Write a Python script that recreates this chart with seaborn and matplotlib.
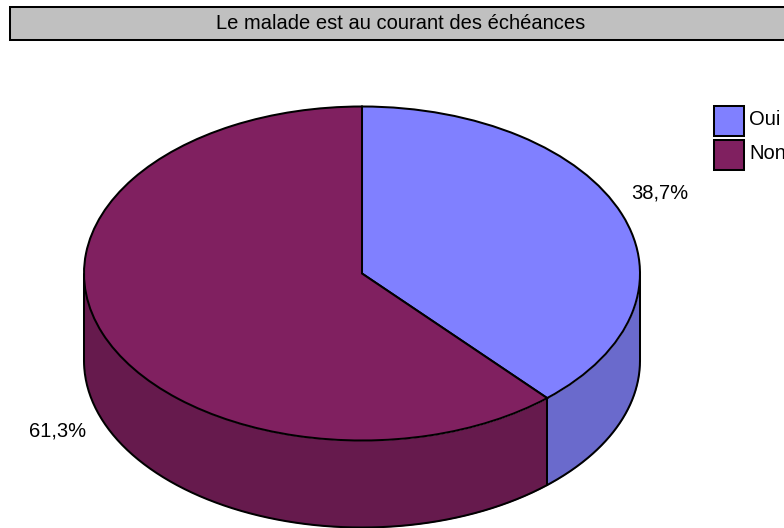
import numpy as np
import matplotlib
matplotlib.use("Agg")
import matplotlib.pyplot as plt
from matplotlib.patches import Rectangle
import seaborn as sns

title = "Le malade est au courant des échéances"
categories = ["Oui", "Non"]
# Slice sizes as drawn in the picture; the printed labels are kept as they read
shares = [38.4, 61.6]
share_labels = ["38,7%", "61,3%"]
top_colors = ["#8080FF", "#802060"]
side_colors = ["#6A6ACC", "#661A4D"]

sns.set_theme(style="white")
plt.rcParams["font.family"] = ["Liberation Sans", "DejaVu Sans"]

W, H = 784, 528
CX, CY, RX, RY, DEPTH = 362, 273.5, 278, 167, 87
k = RX / RY
LW = 1.45
FS = 14.5

fig = plt.figure(figsize=(W / 100, H / 100), dpi=100, facecolor="white")
ax = fig.add_axes([0, 0, 1, 1])

wedges, _ = ax.pie(shares, colors=top_colors, startangle=90, counterclock=False,
                   radius=RX, center=(CX, 0),
                   wedgeprops=dict(edgecolor="black", linewidth=LW, zorder=5))
ax.set_aspect("auto")
ax.set_xlim(0, W)
ax.set_ylim((CY - H) * k, CY * k)
ax.set_axis_off()

# Side wall: visible (lower) half of the rim
depth = DEPTH * k
fractions = np.cumsum([0] + shares) / sum(shares)
for i in range(len(shares)):
    a0 = max(fractions[i] * 2 * np.pi, np.pi / 2)
    a1 = min(fractions[i + 1] * 2 * np.pi, 3 * np.pi / 2)
    t = np.linspace(a0, a1, 200)
    x = CX + RX * np.sin(t)
    y = RX * np.cos(t)
    ax.fill_between(x, y - depth, y, color=side_colors[i], lw=0, zorder=2)
    ax.plot(x, y - depth, color="black", lw=LW, zorder=3)
for a in (np.pi / 2, 3 * np.pi / 2, fractions[1] * 2 * np.pi):
    x = CX + RX * np.sin(a)
    y = RX * np.cos(a)
    ax.plot([x, x], [y, y - depth], color="black", lw=LW, zorder=4)

def fx(px):
    return px / W
def fy(py):
    return 1 - py / H

# Title band
ax.add_patch(Rectangle((fx(10), fy(40)), fx(790) - fx(10), fy(7) - fy(40), transform=ax.transAxes,
                       facecolor="#C0C0C0", edgecolor="black", lw=LW, clip_on=False, zorder=6))
ax.text(fx(401), fy(23.5), title, transform=ax.transAxes, ha="center", va="center",
        fontsize=FS, color="black", zorder=7)

# Value labels
ax.text(fx(659.8), fy(193), share_labels[0], transform=ax.transAxes, ha="center", va="center",
        fontsize=FS, color="black")
ax.text(fx(57.8), fy(431), share_labels[1], transform=ax.transAxes, ha="center", va="center",
        fontsize=FS, color="black")

# Legend
leg = ax.legend(wedges, categories, loc="upper left", bbox_to_anchor=(fx(714), fy(106)),
                bbox_transform=ax.transAxes, frameon=False, fontsize=FS, borderpad=0,
                borderaxespad=0, handlelength=1.49, handleheight=1.92,
                labelspacing=0.18, handletextpad=0.27)
for t in leg.get_texts():
    t.set_color("black")
    t.set_y(2)

fig.savefig("out.png", dpi=100, facecolor="white")
